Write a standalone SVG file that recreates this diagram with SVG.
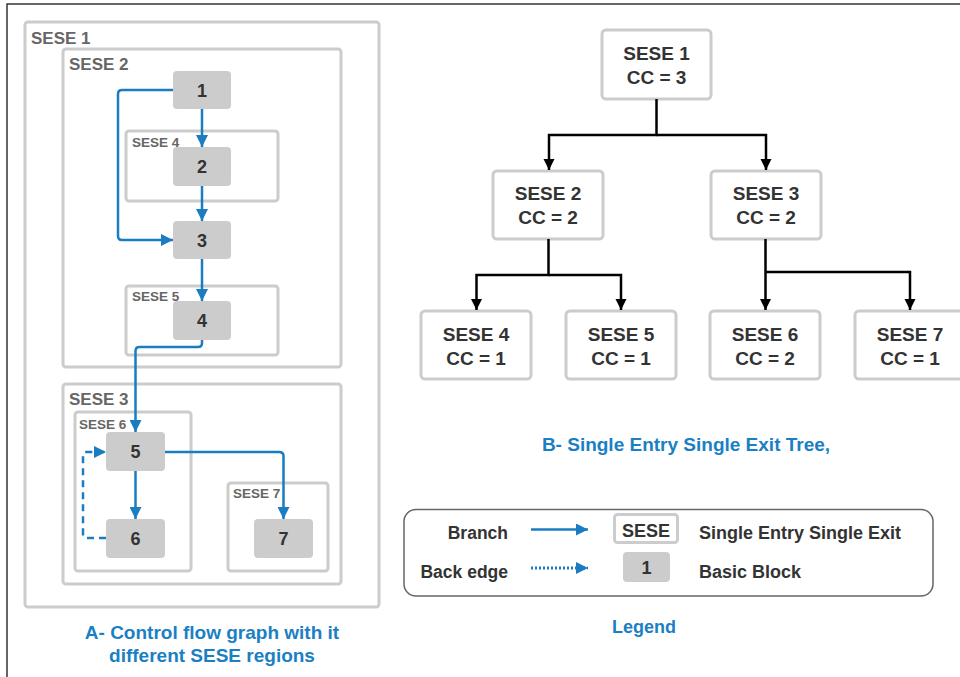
<svg xmlns="http://www.w3.org/2000/svg" width="960" height="677" viewBox="0 0 960 677">
<defs>
<style>
text{font-family:"Liberation Sans",Arial,sans-serif;font-weight:bold}
.region{fill:none;stroke:#cccccc;stroke-width:3}
.rlab{fill:#666666;font-size:17px}
.slab{fill:#666666;font-size:13.5px}
.bb{fill:#cccccc}
.bbt{fill:#333333;font-size:18px;text-anchor:middle}
.tbox{fill:#ffffff;stroke:#cccccc;stroke-width:3}
.tt{fill:#333333;font-size:19px;text-anchor:middle}
.edge{fill:none;stroke:#1a7dc1;stroke-width:2.5}
.back{fill:none;stroke:#1a7dc1;stroke-width:2.5;stroke-dasharray:7 5}
.dot{fill:none;stroke:#1a7dc1;stroke-width:3;stroke-dasharray:2 2}
.tedge{fill:none;stroke:#000000;stroke-width:2.5}
.title{fill:#1a80c4;font-size:19px;text-anchor:middle}
.lt{fill:#333333;font-size:17.5px}
</style>
<marker id="ab" markerUnits="userSpaceOnUse" markerWidth="12" markerHeight="12" refX="12" refY="6" orient="auto">
<path d="M0,0 L12,6 L0,12 z" fill="#1a7dc1"/>
</marker>
<marker id="ak" markerUnits="userSpaceOnUse" markerWidth="12" markerHeight="12" refX="11" refY="6" orient="auto">
<path d="M0,0.5 L11,6 L0,11.5 z" fill="#000000"/>
</marker>
</defs>
<rect width="960" height="677" fill="#ffffff"/>
<path d="M7,677 V4 H960" fill="none" stroke="#333333" stroke-width="1.5"/>

<!-- Part A: control flow graph regions -->
<g id="sese1-region"><rect class="region" x="25" y="22" width="354" height="585" rx="3"/><text class="rlab" x="31" y="44">SESE 1</text></g>
<g id="sese2-region"><rect class="region" x="63" y="49" width="278" height="318" rx="3"/><text class="rlab" x="69" y="70">SESE 2</text></g>
<g id="sese4-region"><rect class="region" x="126" y="131" width="152" height="70" rx="3"/><text class="slab" x="132" y="147">SESE 4</text></g>
<g id="sese5-region"><rect class="region" x="126" y="286" width="152" height="69" rx="3"/><text class="slab" x="132" y="301">SESE 5</text></g>
<g id="sese3-region"><rect class="region" x="63" y="384" width="278" height="200" rx="3"/><text class="rlab" x="69" y="405">SESE 3</text></g>
<g id="sese6-region"><rect class="region" x="75" y="412" width="116" height="159" rx="3"/><text class="slab" x="79" y="429">SESE 6</text></g>
<g id="sese7-region"><rect class="region" x="228" y="483" width="100" height="88" rx="3"/><text class="slab" x="233" y="498">SESE 7</text></g>

<g id="bb1"><rect class="bb" x="173" y="71" width="58" height="38" rx="4"/><text class="bbt" x="202" y="96.5">1</text></g>
<g id="bb2"><rect class="bb" x="173" y="147" width="58" height="39" rx="4"/><text class="bbt" x="202" y="173">2</text></g>
<g id="bb3"><rect class="bb" x="173" y="221" width="58" height="38" rx="4"/><text class="bbt" x="202" y="246.5">3</text></g>
<g id="bb4"><rect class="bb" x="173" y="301" width="58" height="39" rx="4"/><text class="bbt" x="202" y="327">4</text></g>
<g id="bb5"><rect class="bb" x="106" y="432" width="59" height="39" rx="4"/><text class="bbt" x="135.5" y="458">5</text></g>
<g id="bb6"><rect class="bb" x="106" y="519" width="59" height="39" rx="4"/><text class="bbt" x="135.5" y="545">6</text></g>
<g id="bb7"><rect class="bb" x="254" y="519" width="59" height="39" rx="4"/><text class="bbt" x="283.5" y="545">7</text></g>

<g id="cfg-edges">
<path class="edge" d="M202,109 V147" marker-end="url(#ab)"/>
<path class="edge" d="M173,90 H122 Q118,90 118,94 V236 Q118,240 122,240 H173" marker-end="url(#ab)"/>
<path class="edge" d="M202,186 V221" marker-end="url(#ab)"/>
<path class="edge" d="M202,259 V301" marker-end="url(#ab)"/>
<path class="edge" d="M202,340 V343 Q202,347 198,347 H139.5 Q135.5,347 135.5,351 V432" marker-end="url(#ab)"/>
<path class="edge" d="M135.5,471 V519" marker-end="url(#ab)"/>
<path class="edge" d="M165,452 H279 Q283.5,452 283.5,456 V519" marker-end="url(#ab)"/>
<path class="back" d="M106,538 H87 Q83,538 83,534 V456 Q83,452 87,452 H106" marker-end="url(#ab)"/>
</g>

<text class="title" x="212" y="639">A- Control flow graph with it</text>
<text class="title" x="212" y="662">different SESE regions</text>

<!-- Part B: SESE tree -->
<g id="t1"><rect class="tbox" x="602" y="30" width="109" height="69" rx="4"/><text class="tt" x="656.5" y="60">SESE 1</text><text class="tt" x="656.5" y="84">CC = 3</text></g>
<g id="t2"><rect class="tbox" x="493" y="171" width="110" height="68" rx="4"/><text class="tt" x="548" y="200">SESE 2</text><text class="tt" x="548" y="224">CC = 2</text></g>
<g id="t3"><rect class="tbox" x="711" y="171" width="110" height="68" rx="4"/><text class="tt" x="766" y="200">SESE 3</text><text class="tt" x="766" y="224">CC = 2</text></g>
<g id="t4"><rect class="tbox" x="421" y="311" width="110" height="68" rx="4"/><text class="tt" x="476" y="341">SESE 4</text><text class="tt" x="476" y="365">CC = 1</text></g>
<g id="t5"><rect class="tbox" x="566" y="311" width="110" height="68" rx="4"/><text class="tt" x="621" y="341">SESE 5</text><text class="tt" x="621" y="365">CC = 1</text></g>
<g id="t6"><rect class="tbox" x="710" y="311" width="110" height="68" rx="4"/><text class="tt" x="765" y="341">SESE 6</text><text class="tt" x="765" y="365">CC = 2</text></g>
<g id="t7"><rect class="tbox" x="855" y="311" width="110" height="68" rx="4"/><text class="tt" x="910" y="341">SESE 7</text><text class="tt" x="910" y="365">CC = 1</text></g>

<g id="tree-edges">
<path class="tedge" d="M656.5,99 V135 H549 V170" marker-end="url(#ak)"/>
<path class="tedge" d="M656.5,135 H766 V170" marker-end="url(#ak)"/>
<path class="tedge" d="M548.5,239 V275 H476.5 V310" marker-end="url(#ak)"/>
<path class="tedge" d="M548.5,275 H621 V310" marker-end="url(#ak)"/>
<path class="tedge" d="M765.5,239 V310" marker-end="url(#ak)"/>
<path class="tedge" d="M765.5,272 H910 V310" marker-end="url(#ak)"/>
</g>

<text class="title" x="686" y="451">B- Single Entry Single Exit Tree,</text>

<!-- Legend -->
<g id="legend">
<rect x="404" y="509.5" width="529" height="86.5" rx="12" fill="none" stroke="#666666" stroke-width="1.5"/>
<text class="lt" x="508" y="539" text-anchor="end">Branch</text>
<path class="edge" d="M531,529.5 H588" marker-end="url(#ab)"/>
<text class="lt" x="508" y="578" text-anchor="end">Back edge</text>
<path class="dot" d="M531,568 H588" marker-end="url(#ab)"/>
<rect class="tbox" x="614.5" y="514.5" width="63" height="28" rx="3"/>
<text class="tt" x="646" y="537" style="font-size:18px">SESE</text>
<rect class="bb" x="623" y="552" width="47" height="30" rx="4"/>
<text class="tt" x="646.5" y="574" style="font-size:18px">1</text>
<text class="lt" x="699" y="539" style="font-size:18px">Single Entry Single Exit</text>
<text class="lt" x="699" y="578" style="font-size:18px">Basic Block</text>
</g>
<text class="title" x="644" y="633" style="font-size:18px">Legend</text>
</svg>
